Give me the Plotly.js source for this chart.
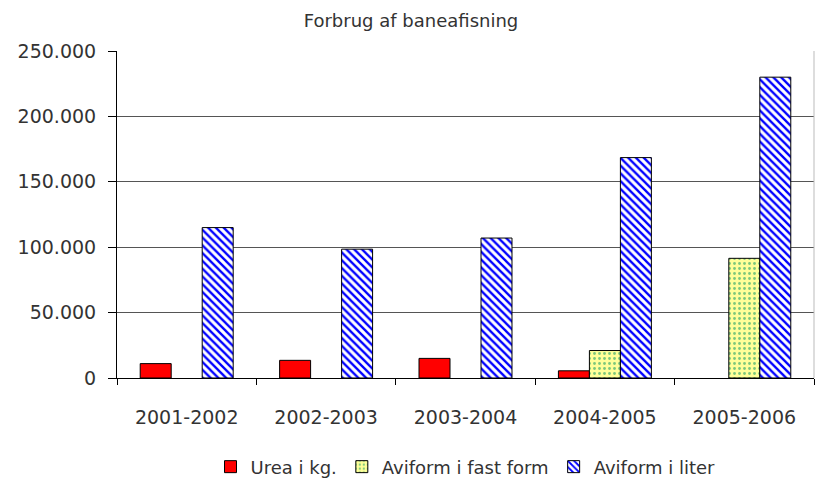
<!DOCTYPE html>
<html>
<head>
<meta charset="utf-8">
<script src="https://cdn.plot.ly/plotly-3.0.1.min.js"></script>
<style>html,body{margin:0;padding:0;background:#fff}#chart{width:822px;height:481px}</style>
</head>
<body>
<div id="chart"></div>
<script>
const categories = ["2001-2002", "2002-2003", "2003-2004", "2004-2005", "2005-2006"];
const seriesNames = ["Urea i kg.", "Aviform i fast form", "Aviform i liter"];
const ureaKg = [11000, 13500, 15000, 5500, null];
const aviformFast = [null, null, null, 21000, 91500];
const aviformLiter = [115000, 98500, 107000, 168500, 230000];
const yTicks = [0, 50000, 100000, 150000, 200000, 250000];

const font = "DejaVu Sans, sans-serif";
const txt = "#333333";

const traces = [
  {
    type: "bar", name: seriesNames[0], x: categories, y: ureaKg,
    marker: {color: "#ff0000", line: {color: "#000000", width: 1}}
  },
  {
    type: "bar", name: seriesNames[1], x: categories, y: aviformFast,
    marker: {color: "#ffff99", line: {color: "#000000", width: 1},
      pattern: {shape: ".", bgcolor: "#ffff99", fgcolor: "#7cc87c", size: 5, solidity: 0.25}}
  },
  {
    type: "bar", name: seriesNames[2], x: categories, y: aviformLiter,
    marker: {color: "#ffffff", line: {color: "#000000", width: 1},
      pattern: {shape: "\\", bgcolor: "#ffffff", fgcolor: "#0000ff", size: 5.5, solidity: 0.42}}
  }
];

const layout = {
  width: 822, height: 481,
  margin: {l: 117, r: 8, t: 51, b: 103, autoexpand: false},
  paper_bgcolor: "#ffffff", plot_bgcolor: "#ffffff",
  separators: ",.",
  font: {family: font, color: txt, size: 19},
  title: {text: "Forbrug af baneafisning", font: {family: font, size: 18, color: txt},
    x: 0.5, xanchor: "center", y: 0.958, yanchor: "middle"},
  barmode: "group", bargap: 0.333, bargroupgap: 0,
  showlegend: true,
  legend: {orientation: "h", x: 0.5, xanchor: "center", y: -0.272, yanchor: "middle",
    font: {family: font, size: 18, color: txt}, traceorder: "normal", itemwidth: 30},
  xaxis: {
    type: "category", showgrid: false, showline: true, linecolor: "#000000", linewidth: 1,
    ticks: "outside", tickson: "boundaries", ticklen: 6, tickcolor: "#000000",
    ticklabelstandoff: 22, tickfont: {family: font, size: 19, color: txt}, zeroline: false,
    automargin: false
  },
  yaxis: {
    range: [0, 250000], tickvals: yTicks, tickformat: ",d",
    showgrid: true, gridcolor: "#555555", gridwidth: 1,
    showline: true, linecolor: "#000000", linewidth: 1,
    ticks: "outside", ticklen: 8, tickcolor: "#000000", ticklabelstandoff: 8,
    tickfont: {family: font, size: 19, color: txt}, zeroline: false, automargin: false
  },
  shapes: [
    {type: "line", xref: "paper", yref: "paper", x0: 1, x1: 1, y0: 0, y1: 1,
      line: {color: "#bbbbbb", width: 1}}
  ]
};

Plotly.newPlot("chart", traces, layout, {displayModeBar: false, staticPlot: true});
</script>
</body>
</html>
